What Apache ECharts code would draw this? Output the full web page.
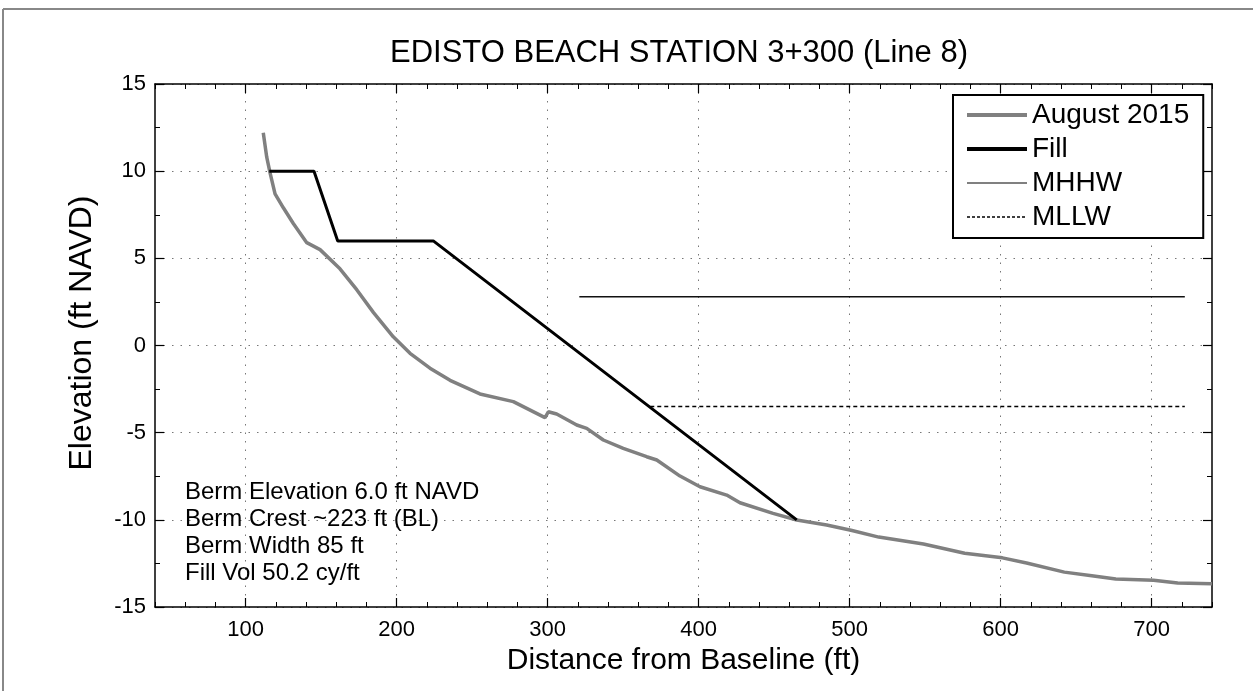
<!DOCTYPE html>
<html>
<head>
<meta charset="utf-8">
<script src="https://cdn.jsdelivr.net/npm/echarts@6/dist/echarts.min.js"></script>
<style>
html,body{margin:0;padding:0;background:#fff;}
#chart{width:1253px;height:691px;}
</style>
</head>
<body>
<div id="chart"></div>
<script>
// ---- data ----
const titleText = 'EDISTO BEACH STATION 3+300 (Line 8)';
const xTitle = 'Distance from Baseline (ft)';
const yTitle = 'Elevation (ft NAVD)';
const xTicks = [100, 200, 300, 400, 500, 600, 700];
const yTicks = [-15, -10, -5, 0, 5, 10, 15];

const augX = [111.7, 114.0, 116.2, 119.5, 125.0, 131.6, 140.5, 149.3, 162.5, 173.6, 184.6, 197.8, 208.9, 222.1, 235.4, 255.2, 277.3, 298.3, 300.5, 306.0, 319.3, 325.9, 336.9, 350.1, 365.6, 372.3, 387.7, 400.9, 418.6, 427.4, 449.3, 465.0, 484.8, 500.9, 519.3, 548.9, 576.2, 601.2, 617.2, 642.2, 660.4, 676.3, 701.3, 717.3, 740];
const augY = [12.2, 10.8, 9.9, 8.7, 7.9, 7.0, 5.9, 5.5, 4.4, 3.2, 1.9, 0.5, -0.45, -1.3, -2.0, -2.78, -3.22, -4.14, -3.80, -3.93, -4.56, -4.75, -5.42, -5.90, -6.38, -6.57, -7.49, -8.10, -8.58, -9.02, -9.63, -10.01, -10.30, -10.60, -10.99, -11.39, -11.92, -12.18, -12.48, -13.00, -13.21, -13.40, -13.46, -13.62, -13.66];

const fillX = [115.7, 145.3, 161.0, 224.3, 465.0];
const fillY = [10, 10, 6, 6, -10];

const mhhwX = [321, 722];
const mhhwY = [2.8, 2.8];
const mllwX = [368, 722];
const mllwY = [-3.5, -3.5];

const notes = ['Berm Elevation 6.0 ft NAVD', 'Berm Crest ~223 ft (BL)', 'Berm Width 85 ft', 'Fill Vol 50.2 cy/ft'];
const seriesNames = ['August 2015', 'Fill', 'MHHW', 'MLLW'];

// ---- build ----
const zip = (xs, ys) => xs.map((x, i) => [x, ys[i]]);
const FONT = 'Liberation Sans, Arial, sans-serif';
const axisLineStyle = {color: '#000', width: 1.5};
const gridDots = {color: '#777', width: 1, type: [1.5, 7]};

const majorX = (pos, main) => ({
  type: 'value', position: pos, min: 40, max: 740,
  axisLine: {show: true, onZero: false, lineStyle: axisLineStyle},
  axisTick: {show: true, inside: true, length: 9, customValues: xTicks, lineStyle: {color: '#000', width: 1.2}},
  axisLabel: main ? {show: true, customValues: xTicks, fontSize: 22, color: '#000', fontFamily: FONT, margin: 12} : {show: false},
  splitLine: main ? {show: true, lineStyle: gridDots} : {show: false},
  name: main ? xTitle : '',
  nameLocation: 'middle', nameGap: 38,
  nameTextStyle: {fontSize: 30, color: '#000', fontFamily: FONT}
});
const minorX = (pos) => ({
  type: 'value', position: pos, min: 40, max: 740, interval: 20,
  axisLine: {show: false, onZero: false},
  axisTick: {show: true, inside: true, length: 5, lineStyle: {color: '#000', width: 1}},
  axisLabel: {show: false},
  splitLine: {show: false}
});
const yAx = (pos, main) => ({
  type: 'value', position: pos, min: -15, max: 15, interval: 5,
  axisLine: {show: true, onZero: false, lineStyle: axisLineStyle},
  axisTick: {show: true, inside: true, length: 9, lineStyle: {color: '#000', width: 1.2}},
  minorTick: {show: true, splitNumber: 2, length: 5, lineStyle: {color: '#000', width: 1}},
  axisLabel: main ? {show: true, fontSize: 22, color: '#000', fontFamily: FONT, margin: 9} : {show: false},
  splitLine: main ? {show: true, lineStyle: gridDots} : {show: false}
});

const hideSym = {color: 'transparent', borderColor: 'transparent', borderWidth: 0};

const chart = echarts.init(document.getElementById('chart'), null, {renderer: 'canvas'});
chart.setOption({
  animation: false,
  backgroundColor: '#fff',
  grid: {left: 155, right: 41, top: 84, bottom: 84, containLabel: false},
  xAxis: [majorX('bottom', true), minorX('bottom'), majorX('top', false), minorX('top')],
  yAxis: [yAx('left', true), yAx('right', false)],
  legend: {
    orient: 'vertical', left: 953, top: 95,
    data: [
      {name: seriesNames[0], itemStyle: hideSym, lineStyle: {color: '#808080', width: 4}},
      {name: seriesNames[1], itemStyle: hideSym, lineStyle: {color: '#000', width: 4}},
      {name: seriesNames[2], itemStyle: hideSym, lineStyle: {color: '#808080', width: 2}},
      {name: seriesNames[3], itemStyle: hideSym, lineStyle: {color: '#000', width: 1.3, type: [3, 2]}}
    ],
    itemWidth: 60, itemHeight: 14, itemGap: 0, itemStyle: hideSym,
    padding: [3, 14, 4, 12],
    borderColor: '#000', borderWidth: 2, backgroundColor: '#fff',
    textStyle: {fontSize: 28, color: '#000', fontFamily: FONT, lineHeight: 34},
    selectedMode: false
  },
  graphic: [
    {type: 'line', shape: {x1: 3, y1: 9, x2: 1260, y2: 9}, style: {stroke: '#888', lineWidth: 2}, silent: true},
    {type: 'line', shape: {x1: 3, y1: 9, x2: 3, y2: 700}, style: {stroke: '#888', lineWidth: 2}, silent: true},
    {type: 'text', x: 679, y: 53, style: {text: titleText, fontSize: 31, fontFamily: FONT, fill: '#000', align: 'center', verticalAlign: 'middle'}},
    {type: 'text', x: 82, y: 333, rotation: Math.PI / 2, style: {text: yTitle, fontSize: 32, fontFamily: FONT, fill: '#000', align: 'center', verticalAlign: 'middle'}},
    {type: 'text', left: 185, top: 479, z: 100, style: {text: notes.join('\n'), fontSize: 24, lineHeight: 27, fontFamily: FONT, fill: '#000'}}
  ],
  series: [
    {name: seriesNames[0], type: 'line', data: zip(augX, augY), symbol: 'none', xAxisIndex: 0, yAxisIndex: 0,
     lineStyle: {color: '#808080', width: 3.5}, itemStyle: {color: '#808080'}, z: 3},
    {name: seriesNames[1], type: 'line', data: zip(fillX, fillY), symbol: 'none', xAxisIndex: 0, yAxisIndex: 0,
     lineStyle: {color: '#000', width: 3}, itemStyle: {color: '#000'}, z: 4},
    {name: seriesNames[2], type: 'line', data: zip(mhhwX, mhhwY), symbol: 'none', xAxisIndex: 0, yAxisIndex: 0,
     lineStyle: {color: '#111', width: 1.5}, itemStyle: {color: '#111'}, z: 2},
    {name: seriesNames[3], type: 'line', data: zip(mllwX, mllwY), symbol: 'none', xAxisIndex: 0, yAxisIndex: 0,
     lineStyle: {color: '#000', width: 1.3, type: [4, 3]}, itemStyle: {color: '#000'}, z: 2}
  ]
});
</script>
</body>
</html>
